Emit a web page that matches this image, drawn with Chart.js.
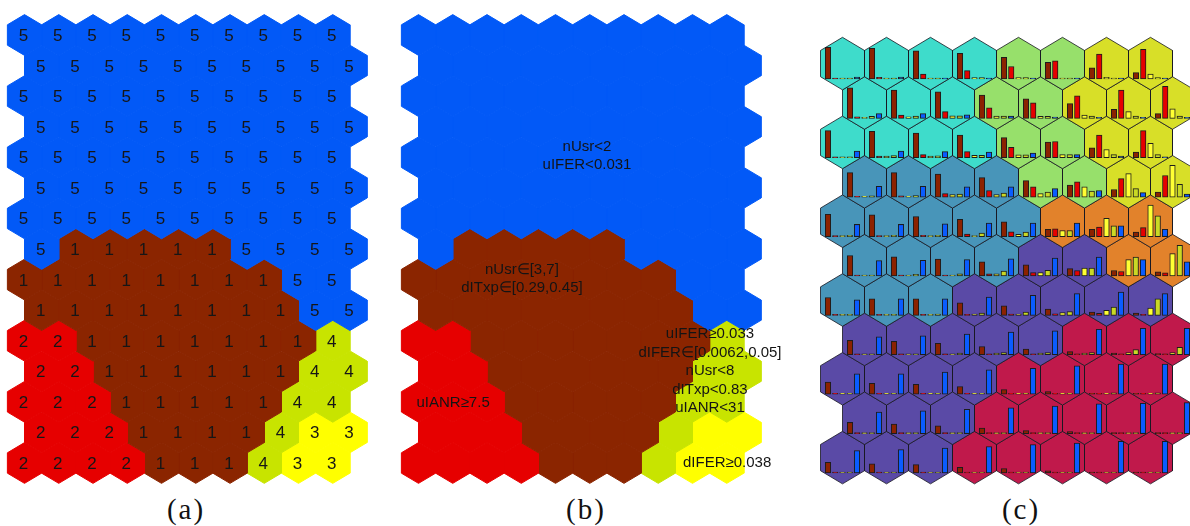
<!DOCTYPE html>
<html>
<head>
<meta charset="utf-8">
<script src="https://cdn.jsdelivr.net/npm/chart.js@4.4.1/dist/chart.umd.min.js"></script>
<style>
  html, body { margin: 0; padding: 0; background: #ffffff; }
  #wrap { position: relative; width: 1190px; height: 526px; overflow: hidden; }
  #wrap canvas { position: absolute; top: 0; }
  .cap { position: absolute; top: 492px; width: 90px; text-align: center;
         font-family: "Liberation Serif", "DejaVu Serif", serif; font-size: 29px;
         letter-spacing: 2px; line-height: 34px; color: #111; }
</style>
</head>
<body>
<div id="wrap">
  <canvas id="mapA" width="380" height="490" style="left:0px;width:380px;height:490px"></canvas>
  <canvas id="mapB" width="412" height="490" style="left:394px;width:412px;height:490px"></canvas>
  <canvas id="mapC" width="380" height="490" style="left:810px;width:380px;height:490px"></canvas>
  <div class="cap" style="left:141px">(a)</div>
  <div class="cap" style="left:541px">(b)</div>
  <div class="cap" style="left:976px">(c)</div>
</div>
<script>
// ---------- cluster index of each map unit (15 rows x 10 columns) ----------
const clusterRows = [
  [5,5,5,5,5,5,5,5,5,5],
  [5,5,5,5,5,5,5,5,5,5],
  [5,5,5,5,5,5,5,5,5,5],
  [5,5,5,5,5,5,5,5,5,5],
  [5,5,5,5,5,5,5,5,5,5],
  [5,5,5,5,5,5,5,5,5,5],
  [5,5,5,5,5,5,5,5,5,5],
  [5,1,1,1,1,1,5,5,5,5],
  [1,1,1,1,1,1,1,1,5,5],
  [1,1,1,1,1,1,1,1,5,5],
  [2,2,1,1,1,1,1,1,1,4],
  [2,2,1,1,1,1,1,1,4,4],
  [2,2,2,1,1,1,1,1,4,4],
  [2,2,2,1,1,1,1,4,3,3],
  [2,2,2,2,1,1,1,4,3,3]
];
const clusterColours = { 1: '#8b2500', 2: '#e60000', 3: '#ffff00', 4: '#c8e400', 5: '#0259f7' };

// ---------- decision rules written over the cluster regions ----------
const ruleTexts = [
  { x: 4.92, y: 3.96,  lines: ['nUsr<2', 'uIFER<0.031'] },
  { x: 3.02, y: 7.98,  lines: ['nUsr\u2208[3,7]', 'dITxp\u2208[0.29,0.45]'] },
  { x: 8.51, y: 10.99, lines: ['uIFER\u22650.033', 'dIFER\u2208[0.0062,0.05]', 'nUsr<8', 'dITxp<0.83', 'uIANR<31'] },
  { x: 1.01, y: 12.04, lines: ['uIANR\u22657.5'] },
  { x: 9.01, y: 14.0,  lines: ['dIFER\u22650.038'] }
];

// ---------- component map (11 rows x 8 columns) ----------
const nodeGroup = [
  'TTTTGGYY',
  'TTTGGYYY',
  'TTTTGGYY',
  'BBBBGGYY',
  'BBBBBOOO',
  'BBBBPPOO',
  'BBBPPPPP',
  'PPPPPCCC',
  'PPPPCCCC',
  'PPPCCCCC',
  'PPPCCCCC'
];
const groupColours = { T: '#3edccb', G: '#97e06b', Y: '#d8df28', B: '#4895b9',
                       O: '#e2822b', P: '#5a4aa6', C: '#c0194b' };

// share of each class inside every unit (bar heights)
const class1Share = [
  [.99,.96,.88,.80,.68,.52,.35,.20],
  [.96,.89,.83,.73,.61,.46,.28,.15],
  [.85,.83,.77,.71,.63,.49,.31,.18],
  [.77,.77,.72,.61,.52,.38,.24,.16],
  [.70,.68,.63,.54,.46,.23,.23,.14],
  [.64,.60,.53,.44,.35,.23,.17,.13],
  [.56,.52,.52,.39,.30,.20,.10,.07],
  [.45,.42,.36,.26,.18,.10,.05,.04],
  [.38,.34,.31,.24,.14,.08,.03,.03],
  [.35,.30,.24,.17,.09,.06,.03,.03],
  [.33,.29,.26,.18,.14,.07,.03,.03]
];
const class2Share = [
  [.03,.05,.15,.26,.39,.57,.78,.93],
  [.05,.10,.21,.33,.49,.71,.89,1.0],
  [.03,.05,.10,.19,.33,.51,.71,.85],
  [.03,.04,.11,.21,.32,.48,.58,.68],
  [.03,.03,.04,.08,.15,.24,.30,.28],
  [.03,.03,.03,.07,.11,.17,.14,.10],
  [.03,.03,.03,.03,.04,.05,.06,.03],
  [.03,.03,.03,.03,.03,.03,.03,.03],
  [.03,.03,.03,.03,.03,.03,.03,.03],
  [.03,.03,.03,.03,.03,.03,.03,.03],
  [.03,.03,.03,.03,.03,.03,.03,.03]
];
const class3Share = [
  [.03,.03,.03,.04,.04,.03,.05,.15],
  [.03,.05,.08,.07,.06,.10,.21,.30],
  [.03,.05,.05,.08,.09,.10,.26,.45],
  [.03,.03,.08,.08,.11,.32,.74,1.0],
  [.03,.03,.03,.03,.07,.19,.57,.99],
  [.03,.03,.03,.07,.11,.25,.51,.70],
  [.03,.03,.03,.04,.04,.09,.16,.23],
  [.03,.03,.03,.05,.05,.05,.07,.07],
  [.03,.03,.03,.03,.03,.03,.03,.03],
  [.03,.03,.03,.03,.03,.03,.03,.03],
  [.03,.03,.03,.03,.03,.03,.03,.03]
];
const class4Share = [
  [.03,.03,.03,.04,.04,.03,.03,.04],
  [.06,.07,.08,.07,.06,.07,.07,.07],
  [.03,.07,.06,.08,.09,.10,.10,.10],
  [.04,.05,.10,.13,.16,.19,.27,.40],
  [.04,.04,.04,.11,.14,.19,.34,.65],
  [.03,.05,.07,.15,.18,.25,.59,.96],
  [.03,.03,.04,.07,.10,.12,.26,.52],
  [.03,.03,.05,.07,.07,.07,.16,.23],
  [.03,.03,.03,.03,.03,.03,.04,.04],
  [.03,.03,.03,.03,.03,.03,.03,.03],
  [.03,.03,.03,.03,.03,.03,.03,.03]
];
const class5Share = [
  [.06,.06,.03,.03,.03,.03,.03,.03],
  [.15,.15,.11,.07,.04,.03,.03,.03],
  [.21,.21,.19,.18,.15,.10,.05,.03],
  [.34,.34,.32,.32,.27,.21,.14,.10],
  [.38,.38,.40,.42,.42,.42,.34,.23],
  [.48,.49,.51,.54,.56,.59,.51,.44],
  [.49,.52,.52,.57,.63,.68,.73,.68],
  [.56,.59,.65,.71,.75,.80,.83,.83],
  [.64,.64,.69,.76,.81,.89,.94,.94],
  [.67,.71,.76,.81,.86,.93,.95,.97],
  [.70,.73,.78,.83,.89,.94,.99,.99]
];
const classShares = [class1Share, class2Share, class3Share, class4Share, class5Share];
const classBarColours = ['#8c2200', '#e60000', '#ffff33', '#c9d925', '#0a5cff'];

// ---------- geometry helpers (hexagonal lattice, odd rows shifted half a unit) ----------
const HEX_CORNERS = [[0,-2/3],[0.5,-1/3],[0.5,1/3],[0,2/3],[-0.5,1/3],[-0.5,-1/3],[0,-2/3]];
const unitX = (row, col) => col + (row % 2) * 0.5;

function hexagon(cx, cy, fillColour, edgeColour, edgeWidth) {
  return {
    type: 'line',
    data: HEX_CORNERS.map(([dx, dy]) => ({ x: cx + dx, y: cy + dy })),
    fill: 'shape',
    backgroundColor: fillColour,
    borderColor: edgeColour,
    borderWidth: edgeWidth,
    borderJoinStyle: 'miter',
    pointRadius: 0,
    pointHoverRadius: 0,
    tension: 0,
    order: 1
  };
}

function mapOptions(xRange, yRange) {
  return {
    responsive: false,
    animation: false,
    devicePixelRatio: 1,
    events: [],
    layout: { padding: 0 },
    plugins: { legend: { display: false }, tooltip: { enabled: false } },
    scales: {
      x: { type: 'linear', display: false, offset: false, grid: { offset: false },
           min: xRange[0], max: xRange[1] },
      y: { type: 'linear', display: false, reverse: true, beginAtZero: false,
           min: yRange[0], max: yRange[1] }
    }
  };
}

// lattice spacing on screen: (a)/(b) 34.25 x 30.57 px, (c) 44 x 39.4 px
const clusterX = [-24.5 / 34.25, (380 - 24.5) / 34.25];
const clusterXWide = [-24.5 / 34.25, (412 - 24.5) / 34.25];
const clusterY = [-35 / 30.57, (490 - 35) / 30.57];
const componentX = [-32.5 / 44, (380 - 32.5) / 44];
const componentY = [-63.6 / 39.4, (490 - 63.6) / 39.4];

function clusterHexes() {
  const sets = [];
  clusterRows.forEach((row, r) => row.forEach((k, c) => {
    const col = clusterColours[k];
    sets.push(hexagon(unitX(r, c), r, col, col, 1));
  }));
  return sets;
}

// digits written at each unit centre
const unitDigits = {
  id: 'unitDigits',
  afterDatasetsDraw(chart) {
    const { ctx, scales: { x, y } } = chart;
    ctx.save();
    ctx.font = '17px "Liberation Sans", Arial, sans-serif';
    ctx.fillStyle = '#161616';
    ctx.textAlign = 'center';
    ctx.textBaseline = 'alphabetic';
    clusterRows.forEach((row, r) => row.forEach((k, c) => {
      ctx.fillText(String(k), x.getPixelForValue(unitX(r, c)) - 1, y.getPixelForValue(r) + 6);
    }));
    ctx.restore();
  }
};

// rule text blocks
const ruleLabels = {
  id: 'ruleLabels',
  afterDatasetsDraw(chart) {
    const { ctx, scales: { x, y } } = chart;
    const lineH = 18.5;
    ctx.save();
    ctx.font = '15px "Liberation Sans", Arial, sans-serif';
    ctx.fillStyle = '#141414';
    ctx.textAlign = 'center';
    ctx.textBaseline = 'middle';
    ruleTexts.forEach(t => {
      const px = x.getPixelForValue(t.x);
      const py = y.getPixelForValue(t.y);
      const top = py - (t.lines.length - 1) * lineH / 2;
      t.lines.forEach((s, i) => ctx.fillText(s, px, top + i * lineH));
    });
    ctx.restore();
  }
};

// (a) cluster map with indices
new Chart(document.getElementById('mapA'), {
  type: 'line',
  data: { datasets: clusterHexes() },
  options: mapOptions(clusterX, clusterY),
  plugins: [unitDigits]
});

// (b) cluster map with rules
new Chart(document.getElementById('mapB'), {
  type: 'line',
  data: { datasets: clusterHexes() },
  options: mapOptions(clusterXWide, clusterY),
  plugins: [ruleLabels]
});

// (c) component map with per-unit class bars
const BAR_BASE = 0.39;     // baseline below unit centre (row units)
const BAR_UNIT = 0.81;     // bar height of a share of 1 (row units)
const componentSets = [];
classShares.forEach((grid, k) => {
  componentSets.push({
    type: 'bar',
    order: 0,
    data: grid.flatMap((row, r) => row.map((v, c) => ({
      x: unitX(r, c),
      y: [r + BAR_BASE, r + BAR_BASE - v * BAR_UNIT]
    }))),
    backgroundColor: classBarColours[k],
    borderColor: '#1c1c1c',
    borderWidth: 1,
    borderSkipped: false,
    grouped: true,
    barThickness: 7.25,
    maxBarThickness: 5.5
  });
});
nodeGroup.forEach((row, r) => row.split('').forEach((g, c) => {
  componentSets.push(hexagon(unitX(r, c), r, groupColours[g], 'rgba(25,25,35,0.8)', 1));
}));

new Chart(document.getElementById('mapC'), {
  type: 'line',
  data: { datasets: componentSets },
  options: mapOptions(componentX, componentY)
});
</script>
</body>
</html>
